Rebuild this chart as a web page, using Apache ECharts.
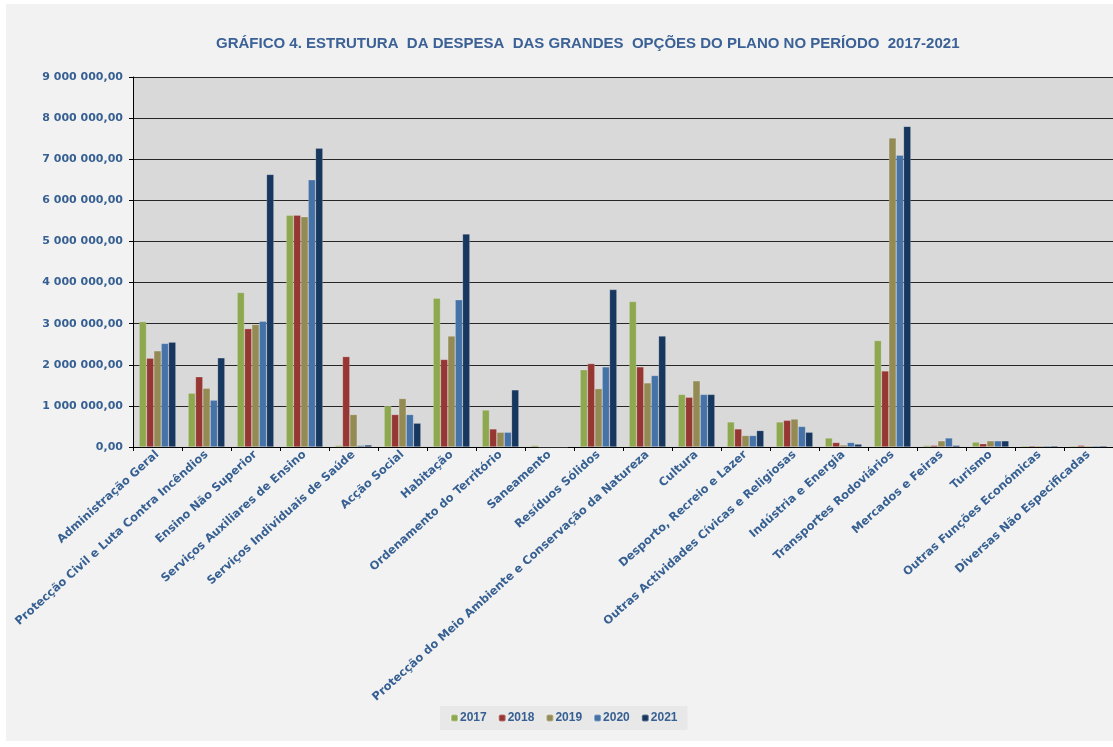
<!DOCTYPE html>
<html><head><meta charset="utf-8">
<script src="https://cdn.jsdelivr.net/npm/echarts@6/dist/echarts.min.js"></script>
<style>html,body{margin:0;padding:0;background:#fff}#c{width:1113px;height:747px}</style>
</head><body><div id="c"></div>
<script>
var categories = ["Administração Geral","Protecção Civil e Luta Contra Incêndios","Ensino Não Superior","Serviços Auxiliares de Ensino","Serviços Individuais de Saúde","Acção Social","Habitação","Ordenamento do Território","Saneamento","Resíduos Sólidos","Protecção do Meio Ambiente e Conservação da Natureza","Cultura","Desporto, Recreio e Lazer","Outras Actividades Cívicas e Religiosas","Indústria e Energia","Transportes Rodoviários","Mercados e Feiras","Turismo","Outras Funções Económicas","Diversas Não Especificadas"];
var years = ["2017","2018","2019","2020","2021"];
var v2017 = [3050000,1310000,3760000,5640000,40000,1000000,3620000,900000,40000,1880000,3540000,1280000,610000,610000,220000,2590000,40000,120000,30000,30000];
var v2018 = [2160000,1710000,2880000,5640000,2200000,790000,2130000,440000,0,2030000,1950000,1210000,440000,650000,110000,1850000,40000,80000,30000,40000];
var v2019 = [2340000,1430000,2980000,5600000,790000,1180000,2700000,360000,0,1420000,1560000,1610000,280000,680000,50000,7520000,150000,150000,30000,30000];
var v2020 = [2520000,1140000,3060000,6500000,40000,790000,3580000,360000,0,1950000,1740000,1280000,280000,500000,110000,7100000,220000,150000,30000,30000];
var v2021 = [2550000,2170000,6630000,7270000,50000,580000,5180000,1390000,0,3830000,2700000,1280000,400000,360000,70000,7800000,40000,150000,30000,30000];
var yTicks = [0,1000000,2000000,3000000,4000000,5000000,6000000,7000000,8000000,9000000];
var colors = ["#8ea84f","#973734","#948a54","#4572a7","#17375e"];
var seriesData = [v2017,v2018,v2019,v2020,v2021];

function fmt(v){
  var s = Math.round(v).toString().replace(/\B(?=(\d{3})+(?!\d))/g,' ');
  return s + ',00';
}
var txt = '#376092';
var chart = echarts.init(document.getElementById('c'));
chart.setOption({
  animation:false,
  backgroundColor:'#ffffff',
  graphic:[{type:'rect',shape:{x:6,y:4,width:1107,height:737},style:{fill:'#f2f2f2'},z:-10}],
  title:{text:'GRÁFICO 4. ESTRUTURA  DA DESPESA  DAS GRANDES  OPÇÕES DO PLANO NO PERÍODO  2017-2021',
    left:211, top:31,
    textStyle:{color:'#3b6196',fontSize:15,fontWeight:'bold',fontFamily:'Liberation Sans'}},
  legend:{data:years, left:440, top:706, itemWidth:7, itemHeight:7, itemGap:11,
    backgroundColor:'#e8e8e8', padding:[6,10,6,10],
    textStyle:{color:txt,fontSize:12,fontWeight:'bold',fontFamily:'Liberation Sans',padding:[0,0,0,-3]}},
  grid:{left:133, top:77, right:0, bottom:300, backgroundColor:'#d9d9d9', show:true, borderWidth:0},
  xAxis:{type:'category', data:categories,
    axisLine:{lineStyle:{color:'#000',width:1}},
    axisTick:{show:true,length:4,lineStyle:{color:'#000'}},
    axisLabel:{rotate:42, interval:0, color:txt, fontSize:11.5, fontWeight:'bold', fontFamily:'DejaVu Sans', margin:6}},
  yAxis:{type:'value', min:0, max:9000000, interval:1000000,
    axisLine:{show:true,lineStyle:{color:'#000',width:1}},
    axisTick:{show:true,length:4,lineStyle:{color:'#000'}},
    splitLine:{lineStyle:{color:'#262626',width:1}},
    axisLabel:{color:txt, fontSize:11, fontWeight:'bold', fontFamily:'DejaVu Sans', margin:10,
      formatter:function(v){return fmt(v);}}},
  series: years.map(function(y,i){
    return {name:y, type:'bar', data:seriesData[i], barGap:'0%', barCategoryGap:'25%',
      itemStyle:{color:colors[i], borderColor:'rgba(255,255,255,0.3)', borderWidth:0.6}};
  })
});
</script></body></html>
